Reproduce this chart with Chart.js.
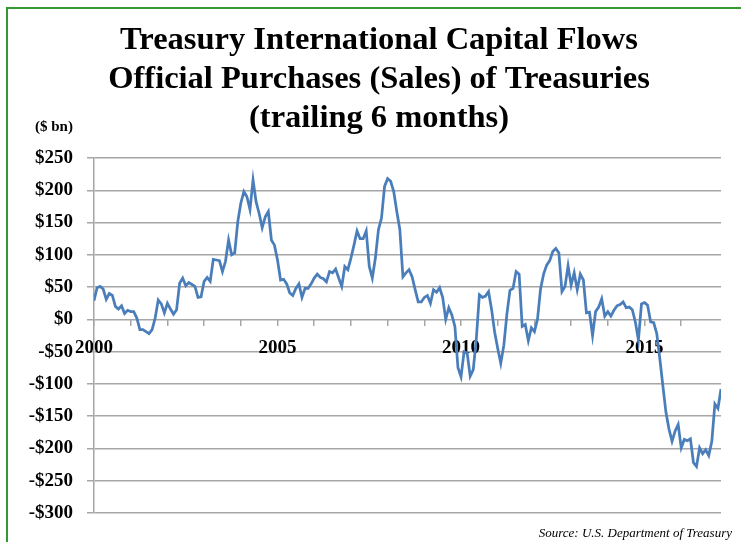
<!DOCTYPE html>
<html>
<head>
<meta charset="utf-8">
<script src="https://cdn.jsdelivr.net/npm/chart.js@4.4.1/dist/chart.umd.min.js"></script>
<style>
  html, body { margin: 0; padding: 0; background: #fff; }
  #wrap { position: relative; width: 741px; height: 542px; }
</style>
</head>
<body>
<div id="wrap"><canvas id="ticChart" width="741" height="542"></canvas></div>
<script>
const titleLines = [
    'Treasury International Capital Flows',
    'Official Purchases (Sales) of Treasuries',
    '(trailing 6 months)'
];
const unitLabel = '($ bn)';
const sourceText = 'Source: U.S. Department of Treasury';

// monthly readings, first point = Jan 2000
const startYear = 2000;
const purchases = [
    29, 49, 51, 47, 31, 40, 37, 20, 16, 21, 9, 14,            // 2000
    12, 12, 2, -16, -16, -19, -22, -16, 2, 30, 24, 10,        // 2001
    25, 16, 8, 15, 56, 64, 52, 57, 54, 51, 34, 35,            // 2002
    59, 65, 59, 93, 92, 91, 74, 90, 123, 100, 103, 151,       // 2003
    180, 198, 190, 170, 216, 182, 164, 142, 159, 167, 123, 115, // 2004
    92, 61, 62, 55, 41, 37, 48, 55, 34, 48, 48, 55,           // 2005
    64, 70, 65, 63, 58, 74, 72, 78, 64, 51, 82, 77,           // 2006
    95, 115, 137, 125, 125, 137, 82, 64, 95, 139, 157, 206,   // 2007
    218, 214, 198, 167, 139, 66, 72, 77, 66, 46, 27, 27,      // 2008
    34, 37, 25, 46, 42, 49, 34, 0, 18, 7, -11, -75,           // 2009
    -89, -50, -52, -88, -78, -30, 38, 34, 36, 43, 15, -20,    // 2010
    -45, -68, -40, 8, 45, 48, 74, 70, -11, -8, -33, -13,      // 2011
    -19, 0, 47, 70, 84, 91, 105, 110, 103, 43, 51, 83,        // 2012
    53, 72, 46, 70, 61, 10, 11, -25, 12, 19, 32, 5,           // 2013
    12, 5, 14, 21, 23, 27, 18, 19, 15, -4, -32, 24,           // 2014
    26, 22, -4, -5, -22, -61, -103, -144, -170, -189, -173, -163, // 2015
    -199, -186, -188, -185, -222, -228, -199, -208, -202, -211, -189, -131, // 2016
    -138, -108                                                 // 2017
];
const yearLabels = [2000, 2005, 2010, 2015];
const yMin = -300, yMax = 250, yStep = 50;

const gridColor = '#a6a6a6';
const serif = '"Liberation Serif", "Times New Roman", serif';

const points = purchases.map((v, i) => ({ x: startYear + i / 12, y: v }));

// frame, title block, unit note and source line
const framePlugin = {
    id: 'frame',
    beforeDraw(chart) {
        const ctx = chart.ctx;
        ctx.save();
        ctx.fillStyle = '#fff';
        ctx.fillRect(0, 0, chart.width, chart.height);
        ctx.strokeStyle = '#339933';
        ctx.lineWidth = 2;
        ctx.beginPath();
        ctx.moveTo(7, chart.height);
        ctx.lineTo(7, 8);
        ctx.lineTo(chart.width, 8);
        ctx.stroke();
        ctx.restore();
    },
    afterDraw(chart) {
        const ctx = chart.ctx;
        ctx.save();
        ctx.fillStyle = '#000';
        ctx.textBaseline = 'middle';
        ctx.textAlign = 'center';
        ctx.font = 'bold 32.5px ' + serif;
        titleLines.forEach((t, i) => ctx.fillText(t, 379, 41 + i * 39));
        ctx.font = 'bold 15px ' + serif;
        ctx.textAlign = 'left';
        ctx.fillText(unitLabel, 35, 127);
        ctx.font = 'italic 13px ' + serif;
        ctx.textAlign = 'right';
        ctx.fillText(sourceText, 732, 534);
        ctx.restore();
    }
};

new Chart(document.getElementById('ticChart').getContext('2d'), {
    type: 'line',
    data: {
        datasets: [{
            data: points,
            borderColor: '#4a7ebb',
            borderWidth: 2.75,
            pointRadius: 0,
            tension: 0,
            fill: false
        }]
    },
    options: {
        responsive: false,
        animation: false,
        layout: { padding: { top: 158, left: 20, right: 20, bottom: 29 } },
        plugins: {
            legend: { display: false },
            tooltip: { enabled: false },
            title: { display: false }
        },
        scales: {
            x: {
                type: 'linear',
                position: { y: 0 },
                min: startYear,
                max: startYear + (purchases.length - 1) / 12,
                afterBuildTicks: (s) => { s.ticks = s.ticks.filter(t => Number.isInteger(t.value)); },
                ticks: {
                    stepSize: 1,
                    autoSkip: false,
                    maxRotation: 0,
                    padding: 10,
                    color: '#000',
                    font: { family: serif, size: 19, weight: 'bold' },
                    callback: (v) => yearLabels.includes(v) ? String(v) : ''
                },
                grid: { drawOnChartArea: false, drawTicks: true, tickLength: 7, color: gridColor, lineWidth: 1.5 },
                border: { display: false }
            },
            y: {
                min: yMin,
                max: yMax,
                afterFit: (s) => { s.width = 74; },
                ticks: {
                    stepSize: yStep,
                    padding: 14,
                    color: '#000',
                    font: { family: serif, size: 19, weight: 'bold' },
                    callback: (v) => (v < 0 ? '-$' : '$') + Math.abs(v)
                },
                grid: { color: gridColor, lineWidth: 1.5, tickLength: 7 },
                border: { display: true, color: gridColor, width: 1.5 }
            }
        }
    },
    plugins: [framePlugin]
});
</script>
</body>
</html>
